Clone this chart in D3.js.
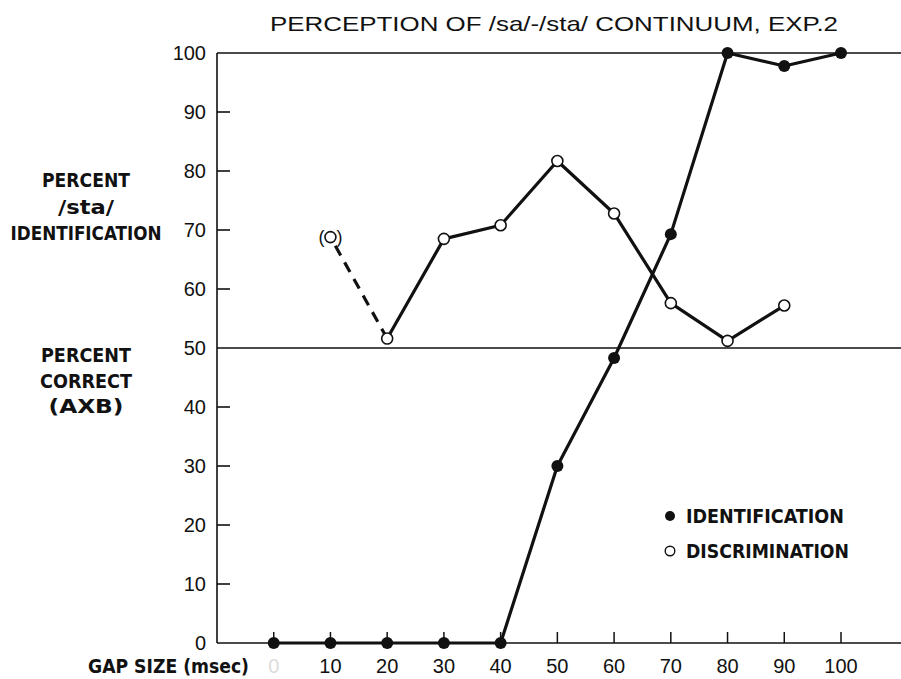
<!DOCTYPE html>
<html>
<head>
<meta charset="utf-8">
<script src="https://cdn.jsdelivr.net/npm/d3@7"></script>
<style>
  html, body { margin: 0; padding: 0; background: #fff; }
  svg { display: block; }
  text { font-family: "Liberation Sans Narrow", "Liberation Sans", Arial, sans-serif; fill: #111; }
  .lbl { font-family: "DejaVu Sans Condensed", "DejaVu Sans", sans-serif; font-weight: bold; }
</style>
</head>
<body>
<svg id="chart" width="901" height="679"></svg>
<script>
// Gap size in msec for each stimulus on the continuum
const gapSizes = [0, 10, 20, 30, 40, 50, 60, 70, 80, 90, 100];
// Percent /sta/ identification
const identification = [0, 0, 0, 0, 0, 30, 48.3, 69.3, 100, 97.8, 100];
// Percent correct AXB discrimination (pairs centred on each gap size)
const discGaps = [10, 20, 30, 40, 50, 60, 70, 80, 90];
const discrimination = [68.8, 51.6, 68.5, 70.8, 81.7, 72.8, 57.6, 51.2, 57.2];
// Axis ticks
const xTicks = [0, 10, 20, 30, 40, 50, 60, 70, 80, 90, 100];
const yTicks = [0, 10, 20, 30, 40, 50, 60, 70, 80, 90, 100];
const yRefLines = [50, 100];

const svg = d3.select("#chart");
const x = d3.scaleLinear().domain([-10, 100]).range([217, 841]);
const y = d3.scaleLinear().domain([0, 100]).range([643, 53]);
const xEnd = 901;

// Title
svg.append("text").attr("x", 270).attr("y", 31)
  .attr("font-size", 21).attr("textLength", 568).attr("lengthAdjust", "spacingAndGlyphs")
  .text("PERCEPTION OF /sa/-/sta/ CONTINUUM, EXP.2");

// Frame: y axis and x axis baseline
svg.append("line").attr("x1", x(-10)).attr("x2", x(-10)).attr("y1", y(0)).attr("y2", y(100))
  .attr("stroke", "#111").attr("stroke-width", 1.6);
svg.append("line").attr("x1", x(-10)).attr("x2", xEnd).attr("y1", y(0)).attr("y2", y(0))
  .attr("stroke", "#111").attr("stroke-width", 1.6);

// Full-width reference lines at 50 and 100
svg.selectAll(".ref").data(yRefLines).join("line")
  .attr("x1", x(-10)).attr("x2", xEnd)
  .attr("y1", d => y(d)).attr("y2", d => y(d))
  .attr("stroke", "#111").attr("stroke-width", 1.4);

// Y ticks (inward) and labels
svg.selectAll(".ytick").data(yTicks.filter(d => !yRefLines.includes(d) && d !== 0)).join("line")
  .attr("x1", x(-10)).attr("x2", x(-10) + 13)
  .attr("y1", d => y(d)).attr("y2", d => y(d))
  .attr("stroke", "#111").attr("stroke-width", 1.6);
svg.selectAll(".ylab").data(yTicks).join("text")
  .attr("x", 206).attr("y", d => y(d) + 7)
  .attr("text-anchor", "end").attr("font-size", 20)
  .text(d => d);

// X ticks (upward) and labels
svg.selectAll(".xtick").data(xTicks).join("line")
  .attr("x1", d => x(d)).attr("x2", d => x(d))
  .attr("y1", y(0)).attr("y2", y(0) - 11)
  .attr("stroke", "#111").attr("stroke-width", 1.5);
svg.selectAll(".xlab").data(xTicks).join("text")
  .attr("x", d => x(d)).attr("y", 673)
  .attr("text-anchor", "middle").attr("font-size", 20)
  .attr("opacity", d => d === 0 ? 0.15 : 1)
  .text(d => d);

svg.append("text").attr("class", "lbl").attr("x", 88).attr("y", 673)
  .attr("font-size", 19).attr("textLength", 161).attr("lengthAdjust", "spacingAndGlyphs")
  .text("GAP SIZE (msec)");

// Left-hand axis titles
const leftLabels = [
  { t: "PERCENT", yv: 187, w: 88 },
  { t: "/sta/", yv: 214, w: 56 },
  { t: "IDENTIFICATION", yv: 240, w: 151 },
  { t: "PERCENT", yv: 362, w: 90 },
  { t: "CORRECT", yv: 388, w: 92 },
  { t: "(AXB)", yv: 413, w: 75 }
];
svg.selectAll(".left").data(leftLabels).join("text")
  .attr("class", "lbl")
  .attr("x", 86).attr("y", d => d.yv)
  .attr("text-anchor", "middle").attr("font-size", 19)
  .attr("font-weight", d => d.t === "/sta/" ? "normal" : "bold")
  .attr("textLength", d => d.w).attr("lengthAdjust", "spacingAndGlyphs")
  .text(d => d.t);

const line = d3.line().x(d => x(d[0])).y(d => y(d[1]));

// Identification curve
const idPts = gapSizes.map((g, i) => [g, identification[i]]);
svg.append("path").attr("d", line(idPts))
  .attr("fill", "none").attr("stroke", "#111").attr("stroke-width", 3.2)
  .attr("stroke-linejoin", "round");

// Discrimination curve: dashed first segment, solid thereafter
const discPts = discGaps.map((g, i) => [g, discrimination[i]]);
svg.append("path").attr("d", line(discPts.slice(0, 2)))
  .attr("fill", "none").attr("stroke", "#111").attr("stroke-width", 3.2)
  .attr("stroke-dasharray", "11,8").attr("stroke-dashoffset", -10);
svg.append("path").attr("d", line(discPts.slice(1)))
  .attr("fill", "none").attr("stroke", "#111").attr("stroke-width", 3.2)
  .attr("stroke-linejoin", "round");

// Markers
svg.selectAll(".idpt").data(idPts).join("circle")
  .attr("cx", d => x(d[0])).attr("cy", d => y(d[1])).attr("r", 6)
  .attr("fill", "#111");
svg.selectAll(".dpt").data(discPts).join("circle")
  .attr("cx", d => x(d[0])).attr("cy", d => y(d[1])).attr("r", 5.5)
  .attr("fill", "#fff").attr("stroke", "#111").attr("stroke-width", 1.6);

// Parentheses around the uncertain first discrimination point
const p0 = discPts[0];
svg.append("text").attr("x", x(p0[0]) - 9).attr("y", y(p0[1]) + 6)
  .attr("font-size", 18).attr("text-anchor", "middle").text("(");
svg.append("text").attr("x", x(p0[0]) + 9).attr("y", y(p0[1]) + 6)
  .attr("font-size", 18).attr("text-anchor", "middle").text(")");

// Legend
const legend = [
  { t: "IDENTIFICATION", filled: true, w: 158 },
  { t: "DISCRIMINATION", filled: false, w: 163 }
];
const lg = svg.selectAll(".lg").data(legend).join("g")
  .attr("transform", (d, i) => `translate(670, ${516 + i * 35})`);
lg.append("circle").attr("r", d => d.filled ? 5 : 4.8)
  .attr("fill", d => d.filled ? "#111" : "#fff")
  .attr("stroke", "#111").attr("stroke-width", d => d.filled ? 0 : 1.4);
lg.append("text").attr("class", "lbl").attr("x", 16).attr("y", 7)
  .attr("font-size", 19).attr("textLength", d => d.w).attr("lengthAdjust", "spacingAndGlyphs")
  .text(d => d.t);
</script>
</body>
</html>
